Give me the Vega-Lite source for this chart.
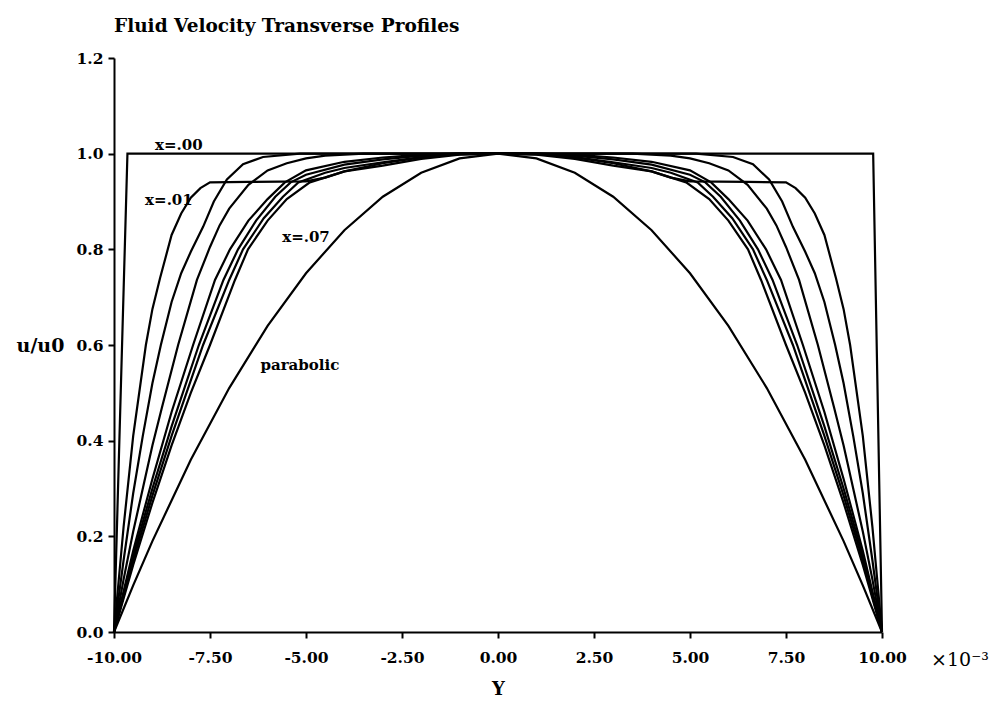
{
  "$schema": "https://vega.github.io/schema/vega-lite/v6.json",
  "width": 768,
  "height": 574,
  "autosize": {"type": "none"},
  "padding": {"left": 114, "top": 58, "right": 115, "bottom": 70},
  "background": "white",
  "title": {"text": "Fluid Velocity Transverse Profiles", "anchor": "start", "frame": "group", "offset": 16, "font": "DejaVu Serif", "fontSize": 18.5, "fontWeight": "bold", "color": "black"},
  "config": {
    "view": {"stroke": null},
    "axis": {"domainColor": "black", "domainWidth": 2, "tickColor": "black", "tickWidth": 2, "tickSize": 6, "labelColor": "black", "labelFont": "DejaVu Serif", "labelFontWeight": "bold", "labelFontSize": 15.5, "titleFont": "DejaVu Serif", "titleFontWeight": "bold", "titleFontSize": 18, "titleColor": "black", "grid": false}
  },
  "layer": [
    {
      "data": {"values": [
        {"s":"x00","Y":-10,"u":0},{"s":"x00","Y":-9.65,"u":1},{"s":"x00","Y":9.77,"u":1},{"s":"x00","Y":10,"u":0},

        {"s":"c1","Y":-10,"u":0},{"s":"c1","Y":-9.75,"u":0.22},{"s":"c1","Y":-9.5,"u":0.41},{"s":"c1","Y":-9.17,"u":0.6},{"s":"c1","Y":-9.0,"u":0.675},{"s":"c1","Y":-8.8,"u":0.74},{"s":"c1","Y":-8.5,"u":0.83},{"s":"c1","Y":-8.25,"u":0.875},{"s":"c1","Y":-8.0,"u":0.908},{"s":"c1","Y":-7.75,"u":0.928},{"s":"c1","Y":-7.5,"u":0.94},{"s":"c1","Y":-6.5,"u":0.941},{"s":"c1","Y":-5.0,"u":0.942},{"s":"c1","Y":-4.5,"u":0.95},{"s":"c1","Y":-4.0,"u":0.963},{"s":"c1","Y":-3.0,"u":0.98},{"s":"c1","Y":-2.0,"u":0.992},{"s":"c1","Y":-1.0,"u":0.999},{"s":"c1","Y":0,"u":1.0},
        {"s":"c1","Y":1.0,"u":0.999},{"s":"c1","Y":2.0,"u":0.992},{"s":"c1","Y":3.0,"u":0.98},{"s":"c1","Y":4.0,"u":0.963},{"s":"c1","Y":4.5,"u":0.95},{"s":"c1","Y":5.0,"u":0.942},{"s":"c1","Y":6.5,"u":0.941},{"s":"c1","Y":7.5,"u":0.94},{"s":"c1","Y":7.75,"u":0.928},{"s":"c1","Y":8.0,"u":0.908},{"s":"c1","Y":8.25,"u":0.875},{"s":"c1","Y":8.5,"u":0.83},{"s":"c1","Y":8.8,"u":0.74},{"s":"c1","Y":9.0,"u":0.675},{"s":"c1","Y":9.17,"u":0.6},{"s":"c1","Y":9.5,"u":0.41},{"s":"c1","Y":9.75,"u":0.22},{"s":"c1","Y":10,"u":0},

        {"s":"c2","Y":-10,"u":0},{"s":"c2","Y":-9.75,"u":0.15},{"s":"c2","Y":-9.5,"u":0.29},{"s":"c2","Y":-9.25,"u":0.41},{"s":"c2","Y":-9,"u":0.52},{"s":"c2","Y":-8.78,"u":0.6},{"s":"c2","Y":-8.5,"u":0.69},{"s":"c2","Y":-8.25,"u":0.75},{"s":"c2","Y":-8,"u":0.795},{"s":"c2","Y":-7.68,"u":0.847},{"s":"c2","Y":-7.4,"u":0.9},{"s":"c2","Y":-7.06,"u":0.946},{"s":"c2","Y":-6.64,"u":0.978},{"s":"c2","Y":-6.12,"u":0.993},{"s":"c2","Y":-5.16,"u":1.0},{"s":"c2","Y":0,"u":1.0},
        {"s":"c2","Y":5.16,"u":1.0},{"s":"c2","Y":6.12,"u":0.993},{"s":"c2","Y":6.64,"u":0.978},{"s":"c2","Y":7.06,"u":0.946},{"s":"c2","Y":7.4,"u":0.9},{"s":"c2","Y":7.68,"u":0.847},{"s":"c2","Y":8,"u":0.795},{"s":"c2","Y":8.25,"u":0.75},{"s":"c2","Y":8.5,"u":0.69},{"s":"c2","Y":8.78,"u":0.6},{"s":"c2","Y":9,"u":0.52},{"s":"c2","Y":9.25,"u":0.41},{"s":"c2","Y":9.5,"u":0.29},{"s":"c2","Y":9.75,"u":0.15},{"s":"c2","Y":10,"u":0},

        {"s":"c3","Y":-10,"u":0},{"s":"c3","Y":-9.75,"u":0.11},{"s":"c3","Y":-9.5,"u":0.21},{"s":"c3","Y":-9,"u":0.39},{"s":"c3","Y":-8.75,"u":0.47},{"s":"c3","Y":-8.33,"u":0.6},{"s":"c3","Y":-7.84,"u":0.736},{"s":"c3","Y":-7.5,"u":0.805},{"s":"c3","Y":-7.25,"u":0.85},{"s":"c3","Y":-7,"u":0.885},{"s":"c3","Y":-6.5,"u":0.935},{"s":"c3","Y":-6,"u":0.965},{"s":"c3","Y":-5.5,"u":0.98},{"s":"c3","Y":-5,"u":0.99},{"s":"c3","Y":-4.5,"u":0.996},{"s":"c3","Y":-3.5,"u":1.0},{"s":"c3","Y":0,"u":1.0},
        {"s":"c3","Y":3.5,"u":1.0},{"s":"c3","Y":4.5,"u":0.996},{"s":"c3","Y":5,"u":0.99},{"s":"c3","Y":5.5,"u":0.98},{"s":"c3","Y":6,"u":0.965},{"s":"c3","Y":6.5,"u":0.935},{"s":"c3","Y":7,"u":0.885},{"s":"c3","Y":7.25,"u":0.85},{"s":"c3","Y":7.5,"u":0.805},{"s":"c3","Y":7.84,"u":0.736},{"s":"c3","Y":8.33,"u":0.6},{"s":"c3","Y":8.75,"u":0.47},{"s":"c3","Y":9,"u":0.39},{"s":"c3","Y":9.5,"u":0.21},{"s":"c3","Y":9.75,"u":0.11},{"s":"c3","Y":10,"u":0},

        {"s":"c4","Y":-10,"u":0},{"s":"c4","Y":-9.5,"u":0.17},{"s":"c4","Y":-9,"u":0.32},{"s":"c4","Y":-8.5,"u":0.46},{"s":"c4","Y":-7.94,"u":0.6},{"s":"c4","Y":-7.37,"u":0.736},{"s":"c4","Y":-6.98,"u":0.8},{"s":"c4","Y":-6.5,"u":0.86},{"s":"c4","Y":-6,"u":0.905},{"s":"c4","Y":-5.55,"u":0.94},{"s":"c4","Y":-5,"u":0.965},{"s":"c4","Y":-4,"u":0.983},{"s":"c4","Y":-3,"u":0.992},{"s":"c4","Y":-2,"u":0.998},{"s":"c4","Y":-1,"u":1.0},{"s":"c4","Y":0,"u":1.0},
        {"s":"c4","Y":1,"u":1.0},{"s":"c4","Y":2,"u":0.998},{"s":"c4","Y":3,"u":0.992},{"s":"c4","Y":4,"u":0.983},{"s":"c4","Y":5,"u":0.965},{"s":"c4","Y":5.55,"u":0.94},{"s":"c4","Y":6,"u":0.905},{"s":"c4","Y":6.5,"u":0.86},{"s":"c4","Y":6.98,"u":0.8},{"s":"c4","Y":7.37,"u":0.736},{"s":"c4","Y":7.94,"u":0.6},{"s":"c4","Y":8.5,"u":0.46},{"s":"c4","Y":9,"u":0.32},{"s":"c4","Y":9.5,"u":0.17},{"s":"c4","Y":10,"u":0},

        {"s":"c5","Y":-10,"u":0},{"s":"c5","Y":-9.5,"u":0.16},{"s":"c5","Y":-9,"u":0.3},{"s":"c5","Y":-8.5,"u":0.43},{"s":"c5","Y":-7.79,"u":0.6},{"s":"c5","Y":-7.15,"u":0.736},{"s":"c5","Y":-6.77,"u":0.8},{"s":"c5","Y":-6.3,"u":0.86},{"s":"c5","Y":-5.8,"u":0.91},{"s":"c5","Y":-5.4,"u":0.94},{"s":"c5","Y":-5,"u":0.956},{"s":"c5","Y":-4,"u":0.977},{"s":"c5","Y":-3,"u":0.988},{"s":"c5","Y":-2,"u":0.996},{"s":"c5","Y":-1,"u":1.0},{"s":"c5","Y":0,"u":1.0},
        {"s":"c5","Y":1,"u":1.0},{"s":"c5","Y":2,"u":0.996},{"s":"c5","Y":3,"u":0.988},{"s":"c5","Y":4,"u":0.977},{"s":"c5","Y":5,"u":0.956},{"s":"c5","Y":5.4,"u":0.94},{"s":"c5","Y":5.8,"u":0.91},{"s":"c5","Y":6.3,"u":0.86},{"s":"c5","Y":6.77,"u":0.8},{"s":"c5","Y":7.15,"u":0.736},{"s":"c5","Y":7.79,"u":0.6},{"s":"c5","Y":8.5,"u":0.43},{"s":"c5","Y":9,"u":0.3},{"s":"c5","Y":9.5,"u":0.16},{"s":"c5","Y":10,"u":0},

        {"s":"c6","Y":-10,"u":0},{"s":"c6","Y":-9.5,"u":0.15},{"s":"c6","Y":-9,"u":0.285},{"s":"c6","Y":-8.5,"u":0.41},{"s":"c6","Y":-7.68,"u":0.6},{"s":"c6","Y":-7,"u":0.736},{"s":"c6","Y":-6.64,"u":0.8},{"s":"c6","Y":-6.1,"u":0.865},{"s":"c6","Y":-5.6,"u":0.91},{"s":"c6","Y":-5.2,"u":0.94},{"s":"c6","Y":-4.5,"u":0.96},{"s":"c6","Y":-4,"u":0.97},{"s":"c6","Y":-3,"u":0.982},{"s":"c6","Y":-2,"u":0.993},{"s":"c6","Y":-1,"u":0.999},{"s":"c6","Y":0,"u":1.0},
        {"s":"c6","Y":1,"u":0.999},{"s":"c6","Y":2,"u":0.993},{"s":"c6","Y":3,"u":0.982},{"s":"c6","Y":4,"u":0.97},{"s":"c6","Y":4.5,"u":0.96},{"s":"c6","Y":5.2,"u":0.94},{"s":"c6","Y":5.6,"u":0.91},{"s":"c6","Y":6.1,"u":0.865},{"s":"c6","Y":6.64,"u":0.8},{"s":"c6","Y":7,"u":0.736},{"s":"c6","Y":7.68,"u":0.6},{"s":"c6","Y":8.5,"u":0.41},{"s":"c6","Y":9,"u":0.285},{"s":"c6","Y":9.5,"u":0.15},{"s":"c6","Y":10,"u":0},

        {"s":"c7","Y":-10,"u":0},{"s":"c7","Y":-9.5,"u":0.14},{"s":"c7","Y":-9,"u":0.27},{"s":"c7","Y":-8.5,"u":0.39},{"s":"c7","Y":-8,"u":0.5},{"s":"c7","Y":-7.5,"u":0.6},{"s":"c7","Y":-6.85,"u":0.736},{"s":"c7","Y":-6.51,"u":0.8},{"s":"c7","Y":-6,"u":0.86},{"s":"c7","Y":-5.5,"u":0.905},{"s":"c7","Y":-4.9,"u":0.94},{"s":"c7","Y":-4,"u":0.963},{"s":"c7","Y":-3,"u":0.975},{"s":"c7","Y":-2,"u":0.989},{"s":"c7","Y":-1,"u":0.998},{"s":"c7","Y":0,"u":1.0},
        {"s":"c7","Y":1,"u":0.998},{"s":"c7","Y":2,"u":0.989},{"s":"c7","Y":3,"u":0.975},{"s":"c7","Y":4,"u":0.963},{"s":"c7","Y":4.9,"u":0.94},{"s":"c7","Y":5.5,"u":0.905},{"s":"c7","Y":6,"u":0.86},{"s":"c7","Y":6.51,"u":0.8},{"s":"c7","Y":6.85,"u":0.736},{"s":"c7","Y":7.5,"u":0.6},{"s":"c7","Y":8,"u":0.5},{"s":"c7","Y":8.5,"u":0.39},{"s":"c7","Y":9,"u":0.27},{"s":"c7","Y":9.5,"u":0.14},{"s":"c7","Y":10,"u":0},

        {"s":"par","Y":-10,"u":0},{"s":"par","Y":-9.5,"u":0.0975},{"s":"par","Y":-9,"u":0.19},{"s":"par","Y":-8,"u":0.36},{"s":"par","Y":-7,"u":0.51},{"s":"par","Y":-6,"u":0.64},{"s":"par","Y":-5,"u":0.75},{"s":"par","Y":-4,"u":0.84},{"s":"par","Y":-3,"u":0.91},{"s":"par","Y":-2,"u":0.96},{"s":"par","Y":-1,"u":0.99},{"s":"par","Y":0,"u":1.0},{"s":"par","Y":1,"u":0.99},{"s":"par","Y":2,"u":0.96},{"s":"par","Y":3,"u":0.91},{"s":"par","Y":4,"u":0.84},{"s":"par","Y":5,"u":0.75},{"s":"par","Y":6,"u":0.64},{"s":"par","Y":7,"u":0.51},{"s":"par","Y":8,"u":0.36},{"s":"par","Y":9,"u":0.19},{"s":"par","Y":9.5,"u":0.0975},{"s":"par","Y":10,"u":0}
      ]},
      "mark": {"type": "line", "color": "black", "strokeWidth": 2.2, "clip": false},
      "encoding": {
        "x": {"field": "Y", "type": "quantitative", "scale": {"domain": [-10, 10], "nice": false, "zero": false},
              "axis": {"title": "Y", "values": [-10, -7.5, -5, -2.5, 0, 2.5, 5, 7.5, 10], "labelExpr": "replace(format(datum.value, '.2f'), '−', '-')", "labelPadding": 12, "titlePadding": 15, "labelFlush": false}},
        "y": {"field": "u", "type": "quantitative", "scale": {"domain": [0, 1.2], "nice": false},
              "axis": {"title": "u/u0", "values": [0, 0.2, 0.4, 0.6, 0.8, 1.0, 1.2], "format": ".1f", "labelPadding": 5, "titleAngle": 0, "titleX": -74, "titleY": 287, "titleAlign": "center", "titleBaseline": "middle", "titleFontSize": 19, "labelFlush": false}},
        "detail": {"field": "s"}
      }
    },
    {
      "data": {"values": [
        {"t": "x=.00", "Y": -8.31, "u": 1.019},
        {"t": "x=.01", "Y": -8.57, "u": 0.904},
        {"t": "x=.07", "Y": -5.0, "u": 0.826},
        {"t": "parabolic", "Y": -5.16, "u": 0.559}
      ]},
      "mark": {"type": "text", "font": "DejaVu Serif", "fontWeight": "bold", "fontSize": 15, "color": "black", "align": "center", "baseline": "middle"},
      "encoding": {
        "x": {"field": "Y", "type": "quantitative"},
        "y": {"field": "u", "type": "quantitative"},
        "text": {"field": "t"}
      }
    },
    {
      "data": {"values": [{"t": "×10⁻³", "Y": 12.03, "u": -0.0586}]},
      "mark": {"type": "text", "font": "DejaVu Serif", "fontSize": 19, "color": "black", "align": "center", "baseline": "middle", "clip": false},
      "encoding": {
        "x": {"field": "Y", "type": "quantitative"},
        "y": {"field": "u", "type": "quantitative"},
        "text": {"field": "t"}
      }
    }
  ]
}
